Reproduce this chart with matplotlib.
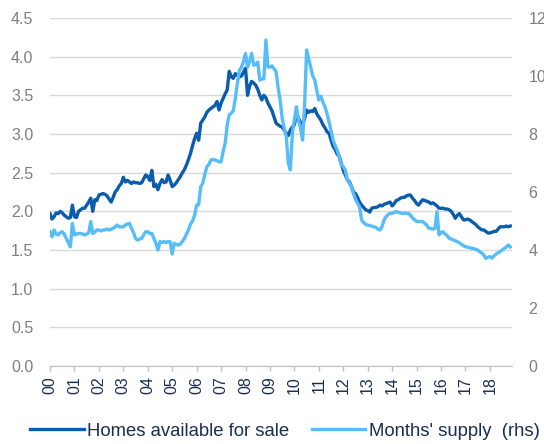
import numpy as np
import matplotlib
matplotlib.use('Agg')
from matplotlib import pyplot as plt

plt.rcParams['font.family'] = ['Liberation Sans', 'DejaVu Sans']

# monthly values, Jan 2000 .. Nov 2018
homes = [
    1.97, 1.90, 1.93, 1.98, 1.97, 2.00, 1.98, 1.95, 1.93, 1.91, 1.92, 2.08,  # 2000
    1.93, 1.92, 2.00, 2.02, 2.04, 2.04, 2.08, 2.12, 2.17, 2.00, 2.15, 2.14,  # 2001
    2.21, 2.22, 2.23, 2.22, 2.20, 2.16, 2.12, 2.18, 2.25, 2.28, 2.33, 2.36,  # 2002
    2.44, 2.38, 2.40, 2.38, 2.36, 2.38, 2.37, 2.37, 2.36, 2.37, 2.42, 2.47,  # 2003
    2.45, 2.40, 2.53, 2.32, 2.35, 2.28, 2.36, 2.41, 2.37, 2.38, 2.47, 2.40,  # 2004
    2.32, 2.34, 2.37, 2.41, 2.45, 2.50, 2.54, 2.60, 2.67, 2.75, 2.85, 2.94,  # 2005
    3.01, 2.92, 3.14, 3.18, 3.22, 3.28, 3.31, 3.33, 3.35, 3.37, 3.42, 3.31,  # 2006
    3.40, 3.46, 3.52, 3.57, 3.81, 3.74, 3.72, 3.78, 3.76, 3.74, 3.75, 3.80,  # 2007
    3.85, 3.50, 3.62, 3.68, 3.66, 3.63, 3.58, 3.50, 3.44, 3.50, 3.47, 3.40,  # 2008
    3.35, 3.30, 3.22, 3.14, 3.12, 3.10, 3.09, 3.05, 3.01, 2.98, 3.05, 3.09,  # 2009
    3.12, 3.27, 3.20, 3.15, 3.12, 3.20, 3.31, 3.28, 3.30, 3.29, 3.33, 3.26,  # 2010
    3.22, 3.18, 3.12, 3.08, 3.03, 3.01, 2.92, 2.84, 2.80, 2.74, 2.71, 2.62,  # 2011
    2.53, 2.47, 2.41, 2.38, 2.32, 2.25, 2.23, 2.18, 2.12, 2.08, 2.05, 2.02,  # 2012
    2.01, 1.99, 2.04, 2.05, 2.05, 2.06, 2.08, 2.07, 2.09, 2.10, 2.11, 2.12,  # 2013
    2.07, 2.10, 2.14, 2.15, 2.17, 2.18, 2.18, 2.20, 2.21, 2.21, 2.17, 2.14,  # 2014
    2.10, 2.08, 2.12, 2.15, 2.14, 2.13, 2.12, 2.10, 2.11, 2.09, 2.07, 2.04,  # 2015
    2.04, 2.04, 2.03, 2.03, 2.02, 2.00, 1.96, 1.91, 1.95, 1.97, 1.93, 1.89,  # 2016
    1.89, 1.90, 1.89, 1.87, 1.85, 1.83, 1.80, 1.78, 1.76, 1.76, 1.74, 1.72,  # 2017
    1.72, 1.73, 1.74, 1.74, 1.77, 1.80, 1.80, 1.80, 1.81, 1.80, 1.81,        # 2018
]

supply = [
    4.63, 4.46, 4.69, 4.55, 4.52, 4.60, 4.63, 4.55, 4.40, 4.25, 4.11, 4.92,  # 2000
    4.52, 4.55, 4.57, 4.57, 4.55, 4.52, 4.55, 4.60, 4.98, 4.57, 4.62, 4.69,  # 2001
    4.69, 4.66, 4.69, 4.69, 4.72, 4.69, 4.72, 4.75, 4.80, 4.86, 4.80, 4.80,  # 2002
    4.80, 4.86, 4.90, 4.92, 4.75, 4.60, 4.40, 4.34, 4.38, 4.40, 4.52, 4.63,  # 2003
    4.63, 4.57, 4.57, 4.40, 4.23, 4.00, 4.29, 4.26, 4.29, 4.26, 4.29, 4.29,  # 2004
    3.86, 4.23, 4.20, 4.17, 4.20, 4.30, 4.40, 4.55, 4.69, 4.90, 5.00, 5.20,  # 2005
    5.55, 5.56, 6.18, 6.30, 6.60, 6.87, 6.95, 7.10, 7.12, 7.10, 7.08, 7.04,  # 2006
    7.04, 7.40, 7.68, 8.30, 8.66, 8.72, 8.80, 9.23, 9.75, 10.20, 10.30, 10.50,  # 2007
    10.78, 10.30, 10.50, 10.78, 10.37, 10.40, 10.48, 9.86, 9.90, 9.90, 11.24, 10.32,  # 2008
    10.30, 10.35, 10.25, 10.15, 9.60, 9.17, 8.54, 8.20, 7.91, 7.00, 6.76, 8.02,  # 2009
    8.50, 8.94, 8.48, 8.20, 7.79, 9.00, 10.90, 10.60, 10.30, 10.00, 9.86, 9.50,  # 2010
    9.17, 9.30, 9.10, 8.94, 8.70, 8.42, 8.10, 7.79, 7.60, 7.45, 7.20, 6.95,  # 2011
    6.87, 6.76, 6.41, 6.30, 6.18, 5.95, 5.75, 5.61, 5.49, 5.03, 4.95, 4.88,  # 2012
    4.86, 4.84, 4.82, 4.80, 4.78, 4.72, 4.69, 4.80, 5.03, 5.15, 5.22, 5.26,  # 2013
    5.26, 5.30, 5.32, 5.30, 5.28, 5.26, 5.28, 5.26, 5.26, 5.20, 5.10, 5.05,  # 2014
    4.98, 4.98, 4.98, 4.98, 4.92, 4.85, 4.75, 4.75, 4.72, 4.75, 5.32, 4.52,  # 2015
    4.60, 4.63, 4.55, 4.50, 4.40, 4.38, 4.35, 4.32, 4.29, 4.25, 4.20, 4.15,  # 2016
    4.11, 4.10, 4.08, 4.06, 4.05, 4.02, 4.00, 3.94, 3.90, 3.82, 3.71, 3.75,  # 2017
    3.77, 3.72, 3.80, 3.86, 3.90, 3.95, 4.00, 4.05, 4.10, 4.17, 4.11,        # 2018
]

years = list(range(2000, 2019))
year_labels = ['%02d' % (y % 100) for y in years]

left_ticks = [0.0, 0.5, 1.0, 1.5, 2.0, 2.5, 3.0, 3.5, 4.0, 4.5]
right_ticks = [0, 2, 4, 6, 8, 10, 12]

dark = '#0a5cad'
light = '#56bdf8'
navy = '#1b2d54'
gray = '#7f7f7f'

t = 2000 + np.arange(len(homes)) / 12.0

fig = plt.figure(figsize=(5.44, 4.44), dpi=100)
ax = fig.add_axes([50 / 544, 1 - 366 / 444, 462 / 544, 348 / 444])
ax2 = ax.twinx()

l1, = ax.plot(t, homes, color=dark, lw=2.4, zorder=3)
l2, = ax2.plot(t, supply, color=light, lw=2.4, zorder=3)

ax.set_xlim(2000, t[-1] + 0.07)
ax.set_ylim(0, 4.5)
ax2.set_ylim(0, 12)

ax.set_yticks(left_ticks)
ax.set_yticklabels(['%.1f' % v for v in left_ticks])
ax2.set_yticks(right_ticks)
ax.grid(axis='y', color='#d9d9d9', lw=1)
ax.set_axisbelow(True)

ax.set_xticks(years)
ax.set_xticklabels(year_labels, rotation=90, color=navy, fontsize=11.5)
ax.tick_params(axis='x', length=3.6, width=1, color='#bfbfbf', pad=4)
ax.tick_params(axis='y', length=0, pad=12, labelcolor=gray, labelsize=11.5)
ax2.tick_params(axis='y', length=0, pad=12, labelcolor=gray, labelsize=11.5)

for a in (ax, ax2):
    for s in a.spines.values():
        s.set_visible(False)
ax.spines['bottom'].set_visible(True)
ax.spines['bottom'].set_color('#bfbfbf')

fig.legend([l1, l2], ["Homes available for sale", "Months' supply  (rhs)"],
           loc='center', bbox_to_anchor=(285 / 544, 1 - 431 / 444), ncol=2,
           frameon=False, fontsize=13.3, labelcolor=navy, handlelength=2.9,
           handletextpad=0.2, columnspacing=1.2, borderpad=0, borderaxespad=0)

fig.savefig('out.png', dpi=100)
